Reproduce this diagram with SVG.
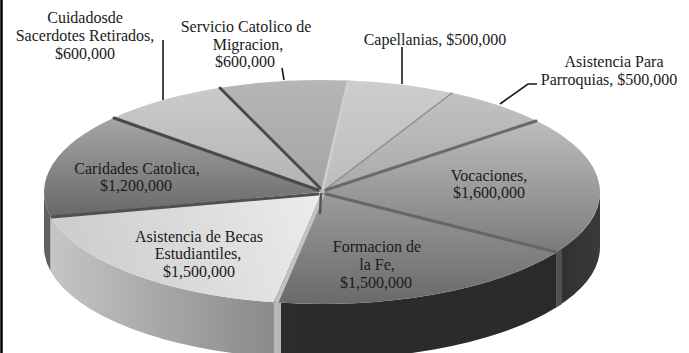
<svg xmlns="http://www.w3.org/2000/svg" width="689" height="353" viewBox="0 0 689 353">
<defs>
<style>
text{font-family:"Liberation Serif","Times New Roman",serif;font-size:16px;fill:#1a1a1a;text-anchor:middle}
.edge{fill:none;stroke-linecap:round}
.lead{fill:none;stroke:#1a1a1a;stroke-width:1.6}
</style>
<linearGradient id="gCar" gradientUnits="userSpaceOnUse" x1="0" y1="118" x2="0" y2="216"><stop offset="0" stop-color="#a6a6a6"/><stop offset="1" stop-color="#686868"/></linearGradient>
<linearGradient id="gCui" gradientUnits="userSpaceOnUse" x1="0" y1="88" x2="0" y2="192"><stop offset="0" stop-color="#cbcbcb"/><stop offset="1" stop-color="#b3b3b3"/></linearGradient>
<linearGradient id="gSer" gradientUnits="userSpaceOnUse" x1="0" y1="80" x2="0" y2="192"><stop offset="0" stop-color="#b6b6b6"/><stop offset="1" stop-color="#a4a4a4"/></linearGradient>
<linearGradient id="gCap" gradientUnits="userSpaceOnUse" x1="0" y1="80" x2="0" y2="192"><stop offset="0" stop-color="#cdcdcd"/><stop offset="1" stop-color="#bcbcbc"/></linearGradient>
<linearGradient id="gPar" gradientUnits="userSpaceOnUse" x1="0" y1="93" x2="0" y2="192"><stop offset="0" stop-color="#c2c2c2"/><stop offset="1" stop-color="#aaaaaa"/></linearGradient>
<linearGradient id="gVoc" gradientUnits="userSpaceOnUse" x1="0" y1="121" x2="0" y2="252"><stop offset="0" stop-color="#bdbdbd"/><stop offset="1" stop-color="#7b7b7b"/></linearGradient>
<linearGradient id="gFor" gradientUnits="userSpaceOnUse" x1="0" y1="192" x2="0" y2="302"><stop offset="0" stop-color="#9c9c9c"/><stop offset="1" stop-color="#6b6b6b"/></linearGradient>
<linearGradient id="gBec" gradientUnits="userSpaceOnUse" x1="320" y1="195" x2="80" y2="280"><stop offset="0" stop-color="#ececec"/><stop offset="1" stop-color="#cdcdcd"/></linearGradient>
<linearGradient id="sBec" gradientUnits="userSpaceOnUse" x1="44" y1="0" x2="274" y2="0"><stop offset="0" stop-color="#c8c8c8"/><stop offset="0.3" stop-color="#b4b4b4"/><stop offset="1" stop-color="#8a8a8a"/></linearGradient>
<linearGradient id="sFor" gradientUnits="userSpaceOnUse" x1="274" y1="0" x2="557" y2="0"><stop offset="0" stop-color="#2c2c2c"/><stop offset="1" stop-color="#2a2a2a"/></linearGradient>
<linearGradient id="sVoc" gradientUnits="userSpaceOnUse" x1="557" y1="0" x2="600" y2="0"><stop offset="0" stop-color="#303030"/><stop offset="1" stop-color="#3a3a3a"/></linearGradient>
</defs>
<rect width="689" height="353" fill="#ffffff"/>
<line x1="1.5" y1="0" x2="1.5" y2="353" stroke="#000" stroke-width="2.5"/>

<g id="pie-sides">
<path d="M50.6,216.2 A278,112 0 0 1 44,192 L44,247 A278,112 0 0 0 50.6,271.2 Z" fill="#606060"/>
<path d="M273.7,302.3 A278,112 0 0 1 50.6,216.2 L50.6,271.2 A278,112 0 0 0 273.7,357.3 Z" fill="url(#sBec)"/>
<path d="M556.5,252.2 A278,112 0 0 1 273.7,302.3 L273.7,357.3 A278,112 0 0 0 556.5,307.2 Z" fill="url(#sFor)"/>
<path d="M600,192 A278,112 0 0 1 556.5,252.2 L556.5,307.2 A278,112 0 0 0 600,247 Z" fill="url(#sVoc)"/>
<polygon points="273.7,302.3 281,299.5 281,353 273.7,353" fill="#b8b8b8"/>
<polygon points="556.5,252.2 562,249.5 562,304 556.5,307.2" fill="#505050"/>
</g>

<g id="slice-cuidados">
<path d="M322,192 L113.9,117.7 A278,112 0 0 1 220.1,87.8 Z" fill="url(#gCui)"/>
<text x="85" y="23">Cuidadosde</text>
<text x="85" y="41">Sacerdotes Retirados,</text>
<text x="85" y="59">$600,000</text>
</g>
<g id="slice-servicio">
<path d="M322,192 L220.1,87.8 A278,112 0 0 1 348.6,80.5 Z" fill="url(#gSer)"/>
<text x="246" y="32">Servicio Catolico de</text>
<text x="248" y="50">Migracion,</text>
<text x="245" y="67">$600,000</text>
</g>
<g id="slice-capellanias">
<path d="M322,192 L348.6,80.5 A278,112 0 0 1 452.5,93.1 Z" fill="url(#gCap)"/>
<text x="435" y="45">Capellanias, $500,000</text>
</g>
<g id="slice-parroquias">
<path d="M322,192 L452.5,93.1 A278,112 0 0 1 536.5,120.8 Z" fill="url(#gPar)"/>
<text x="614" y="67">Asistencia Para</text>
<text x="609" y="85">Parroquias, $500,000</text>
</g>
<g id="slice-vocaciones">
<path d="M322,192 L536.5,120.8 A278,112 0 0 1 556.5,252.2 Z" fill="url(#gVoc)"/>
<text x="489" y="181">Vocaciones,</text>
<text x="489" y="198">$1,600,000</text>
</g>
<g id="slice-formacion">
<path d="M322,192 L556.5,252.2 A278,112 0 0 1 273.7,302.3 Z" fill="url(#gFor)"/>
<text x="377" y="252">Formacion de</text>
<text x="377" y="270">la Fe,</text>
<text x="376" y="288">$1,500,000</text>
</g>
<g id="slice-becas">
<path d="M322,192 L273.7,302.3 A278,112 0 0 1 50.6,216.2 Z" fill="url(#gBec)"/>
<text x="199" y="242">Asistencia de Becas</text>
<text x="198" y="259">Estudiantiles,</text>
<text x="199" y="277">$1,500,000</text>
</g>
<g id="slice-caridades">
<path d="M322,192 L50.6,216.2 A278,112 0 0 1 113.9,117.7 Z" fill="url(#gCar)"/>
<text x="137" y="174">Caridades Catolica,</text>
<text x="136" y="191">$1,200,000</text>
</g>

<g id="slice-edges">
<path class="edge" d="M318,190 L114,118" stroke="#4a4a4a" stroke-width="3"/>
<path class="edge" d="M320,188 L220,88" stroke="#4a4a4a" stroke-width="3"/>
<path class="edge" d="M323,188 L348,81" stroke="#cfcfcf" stroke-width="2.5"/>
<path class="edge" d="M326,189 L452,93" stroke="#8c8c8c" stroke-width="1.5"/>
<path class="edge" d="M326,190 L536,121" stroke="#6a6a6a" stroke-width="3"/>
<path class="edge" d="M326,194 L556,252" stroke="#666666" stroke-width="3"/>
<path class="edge" d="M322,196 L277,301" stroke="#c2c2c2" stroke-width="4"/>
<path class="edge" d="M318,194 L52,217" stroke="#505050" stroke-width="3"/>
<path class="edge" d="M321,194 L320,213" stroke="#555555" stroke-width="2.5"/>
</g>

<g id="connectors">
<path class="lead" d="M163,40 V100"/>
<path class="lead" d="M282,68 L284,80"/>
<path class="lead" d="M402,47 V84"/>
<path class="lead" d="M537,84 L528,84 L500,104"/>
</g>
</svg>
